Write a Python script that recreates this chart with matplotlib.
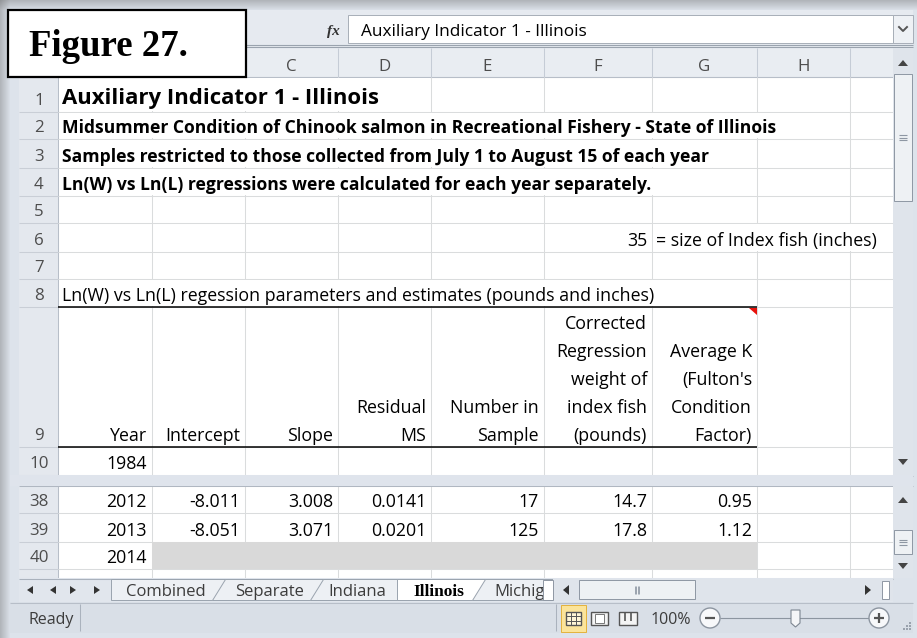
import matplotlib
matplotlib.use("Agg")
import matplotlib.pyplot as plt
from matplotlib.patches import Rectangle, Polygon, Circle

# ---- sheet content ----
title = "Auxiliary Indicator 1 - Illinois"
notes = ["Midsummer Condition of Chinook salmon in Recreational Fishery - State of Illinois",
         "Samples restricted to those collected from July 1 to August 15 of each year",
         "Ln(W) vs Ln(L) regressions were calculated for each year separately."]
index_size = 35
index_label = "= size of Index fish (inches)"
caption = "Ln(W) vs Ln(L) regession parameters and estimates (pounds and inches)"
headers = ["Year", "Intercept", "Slope", "Residual\nMS", "Number in\nSample",
           "Corrected\nRegression\nweight of\nindex fish\n(pounds)",
           "Average K\n(Fulton's\nCondition\nFactor)"]
years = [2012, 2013]
intercept = [-8.011, -8.051]
slope = [3.008, 3.071]
resid_ms = [0.0141, 0.0201]
n_sample = [17, 125]
index_weight = [14.7, 17.8]
avg_k = [0.95, 1.12]
first_year = 1984
empty_year = 2014
col_letters = ["C", "D", "E", "F", "G", "H"]   # A and B sit under the figure label
sheet_tabs = ["Combined", "Separate", "Indiana", "Illinois", "Michiga"]

# ---- layout (pixels) ----
W, H = 917, 638
FONT = "Open Sans"
FS = 12.8      # regular cell text
FSB = 12.6     # bold cell text
col_x = [58, 152, 245, 338, 431, 544, 652, 757, 850, 893]
top_edges = [77, 112, 139, 168, 196, 223, 252, 279, 307, 447, 475]   # rows 1..10
bot_edges = [486, 513, 542, 569, 578]                                 # rows 38..41
grid_c = "#dadcdd"
head_c = "#e4e8ee"
chrome = "#dde3eb"

fig = plt.figure(figsize=(W / 100, H / 100), dpi=100)
ax = fig.add_axes([0, 0, 1, 1])
ax.set_xlim(0, W)
ax.set_ylim(H, 0)
ax.axis("off")


def rect(x0, y0, x1, y1, fc, ec="none", lw=0.7, z=1):
    ax.add_patch(Rectangle((x0, y0), x1 - x0, y1 - y0, fc=fc, ec=ec, lw=lw, zorder=z))


def put(x, y, s, ha="right", size=FS, weight="normal", color="black", family=None, z=5, **kw):
    return ax.text(x, y, s, ha=ha, va="baseline", fontsize=size, fontweight=weight,
                   color=color, family=family or FONT, zorder=z, **kw)


def hline(y, x0, x1, c=grid_c, lw=0.75, z=2):
    ax.plot([x0, x1], [y, y], color=c, lw=lw, zorder=z, solid_capstyle="butt")


def vline(x, y0, y1, c=grid_c, lw=0.75, z=2):
    ax.plot([x, x], [y0, y1], color=c, lw=lw, zorder=z, solid_capstyle="butt")


# window chrome + shadow
rect(0, 0, W, H, chrome, z=0)
for i in range(10):
    a = 0.35 * (1 - i / 10)
    ax.add_patch(Rectangle((i, 0), 1, H, fc="#606060", alpha=a, lw=0, zorder=0.5))
    ax.add_patch(Rectangle((0, i), W, 1, fc="#606060", alpha=a, lw=0, zorder=0.5))

# formula bar
rect(10, 10, 913, 48, "#e6eaf0", z=0.6)
rect(348, 15, 893, 43, "white", ec="#a7aeb8", z=1)
rect(893, 15, 913, 43, "#eef1f5", ec="#a7aeb8", z=1)
ax.plot([899, 903, 907], [27, 31, 27], color="#555", lw=1.4, zorder=3)
hline(45, 19, 913, c="#9aa3ae", lw=0.8)
hline(47, 19, 913, c="#9aa3ae", lw=0.8)
put(333, 35, "fx", ha="center", size=11, family="Liberation Serif", style="italic", weight="bold", color="#333")
put(361, 36, title, ha="left", size=FS * 0.97)

# sheet panes
rect(58, 77, 893, 475, "white", z=0.8)
rect(58, 486, 893, 578, "white", z=0.8)

# column header
rect(19, 48, 893, 77, "#e9edf2", ec="none", z=1)
hline(77, 19, 893, c="#b7bec8", lw=0.8)
for i, letter in enumerate(col_letters):
    put((col_x[i + 2] + col_x[i + 3]) / 2, 71, letter, ha="center", color="#4d4d4d", size=12.2)
for x in col_x[:-1]:
    vline(x, 48, 77, c="#c5ccd6")

# row headers
for edges, first in ((top_edges, 1), (bot_edges, 38)):
    rect(19, edges[0], 58, edges[-1], head_c, z=1)
    vline(58, edges[0], edges[-1], c="#b7bec8")
    for k in range(len(edges) - 1):
        hline(edges[k + 1], 19, 58, c="#c9ced6")
        if edges[k + 1] - edges[k] > 15:
            put(39, edges[k + 1] - 7, str(first + k), ha="center", color="#4d4d4d", size=12.2)

# gridlines
for edges in (top_edges, bot_edges):
    for y in edges[1:]:
        hline(y, 58, 893)
    for x in col_x[1:-1]:
        vline(x, edges[0], edges[-1])

# split bar between panes
rect(10, 475, 913, 486, "#dfe4ec", z=3)
hline(475.5, 19, 913, c="#b0b7c1")
hline(485.5, 19, 913, c="#b0b7c1")

# cells overflowed by long text hide gridlines
for r, (c0, c1) in {1: (0, 4), 2: (0, 8), 3: (0, 7), 4: (0, 7), 6: (6, 9), 8: (0, 7)}.items():
    rect(col_x[c0] + 0.8, top_edges[r - 1] + 0.8, col_x[c1] - 0.8, top_edges[r] - 0.8, "white", z=2.5)

# text rows 1-8
put(62, top_edges[1] - 8, title, ha="left", size=15.9, weight="bold")
for k, s in enumerate(notes):
    put(62, top_edges[k + 2] - 6, s, ha="left", size=FSB, weight="bold")
put(col_x[6] - 5, top_edges[6] - 6, str(index_size))
put(col_x[6] + 4, top_edges[6] - 6, index_label, ha="left")
put(62, top_edges[8] - 6, caption, ha="left")

# table header row 9
for i, h in enumerate(headers):
    lines = h.split("\n")
    for j, ln in enumerate(reversed(lines)):
        put(col_x[i + 1] - 5, top_edges[9] - 6 - 28 * j, ln)
hline(top_edges[8], 58, col_x[7], c="black", lw=1.1, z=4)
hline(top_edges[9], 58, col_x[7], c="black", lw=1.1, z=4)
ax.add_patch(Polygon([(col_x[7] - 8, top_edges[8] + 0.5), (col_x[7], top_edges[8] + 0.5),
                      (col_x[7], top_edges[8] + 8)], fc="#e8120c", lw=0, zorder=5))
put(col_x[1] - 5, top_edges[10] - 6, str(first_year))

# rows 38-39
for k in range(len(years)):
    vals = [str(years[k]), f"{intercept[k]:.3f}", f"{slope[k]:.3f}", f"{resid_ms[k]:.4f}",
            str(n_sample[k]), f"{index_weight[k]:.1f}", f"{avg_k[k]:.2f}"]
    for i, v in enumerate(vals):
        put(col_x[i + 1] - 5, bot_edges[k + 1] - 6, v)
# row 40
rect(col_x[1], bot_edges[2], col_x[7], bot_edges[3], "#d9d9d9", z=2.6)
put(col_x[1] - 5, bot_edges[3] - 6, str(empty_year))

# vertical scrollbars
for y0, y1, up, dn, t0, t1 in ((48, 475, 63, 462, 74, 201), (486, 578, 500, 566, 530, 554)):
    rect(893, y0, 913, y1, "#dfe4eb", z=3)
    ax.add_patch(Polygon([(898, up + 3), (908, up + 3), (903, up - 3)], fc="#444", lw=0, zorder=4))
    ax.add_patch(Polygon([(898, dn - 3), (908, dn - 3), (903, dn + 3)], fc="#444", lw=0, zorder=4))
    rect(894, t0, 912, t1, "#eef1f4", ec="#8e97a3", z=4)
    mid = (t0 + t1) / 2
    for d in (-2.5, 0, 2.5):
        hline(mid + d, 899, 907, c="#8e97a3", lw=0.8, z=5)

# sheet tab bar
rect(19, 578, 893, 602, "#e1e6ed", z=3)
hline(578.5, 19, 893, c="#a9b1bc", z=4)
for x, d in ((30, -1), (53, -1), (73, 1), (97, 1)):
    ax.add_patch(Polygon([(x - 3 * d, 586), (x - 3 * d, 594), (x + 3 * d, 590)], fc="#333", lw=0, zorder=4))
vline(27, 586, 594, c="#333", lw=1)
vline(100, 586, 594, c="#333", lw=1)
tab_x = [111, 222, 320, 397, 482, 543]
for i, name in enumerate(sheet_tabs):
    x0, x1 = tab_x[i], tab_x[i + 1]
    active = name == "Illinois"
    slant = i in (1, 2, 4)
    pts = [(x0 + (3 if slant else 0), 579), (x1 + 12, 579), (x1 + 12, 600),
           (x0 - (10 if slant else 0), 600)]
    ax.add_patch(Polygon(pts, fc="white" if active else "#edf0f4", ec="#9aa3ae", lw=0.7,
                         zorder=4 + 0.1 * i))
    if active:
        put((x0 + x1) / 2 - 1, 596, name, ha="center", size=12.5, weight="bold", family="Liberation Serif", z=7)
    else:
        t = put((x0 + x1) / 2 - 1, 596, name, ha="center", color="#3c3c3c", z=7, size=12.0)
        if i == len(sheet_tabs) - 1:
            t.set_ha("left")
            t.set_x(x0 + 12)
            t.set_clip_path(Rectangle((x0, 579), 543 - x0, 22, transform=ax.transData))
rect(543, 580, 553, 600, "white", ec="#8e97a3", z=8)
# horizontal scrollbar
rect(553, 579, 893, 601, "#dfe4eb", z=5)
ax.add_patch(Polygon([(569, 585), (569, 595), (563, 590)], fc="#333", lw=0, zorder=6))
ax.add_patch(Polygon([(865, 585), (865, 595), (871, 590)], fc="#333", lw=0, zorder=6))
rect(579, 580, 695, 599, "#eef1f4", ec="#8e97a3", z=6)
for d in (-2.4, -0.8, 0.8, 2.4):
    vline(637 + d, 586, 594, c="#8e97a3", lw=0.6, z=7)
rect(882, 581, 889, 599, "white", ec="#8e97a3", z=6)

# status bar
rect(10, 602, 913, 633, "#d9dfe7", z=3)
hline(602.5, 10, 913, c="#b7bec8", z=4)
put(28, 624, "Ready", ha="left", color="#3c3c3c", size=11.5)
vline(80, 604, 631, c="#aab2bd", z=4)
vline(556, 604, 631, c="#aab2bd", z=4)
rect(561, 605, 586, 632, "#fbe49a", ec="#e3b23c", z=4)
rect(566, 612, 581, 625, "#fff6d6", ec="#555", lw=1, z=5)
for d in (4.3, 8.6):
    hline(612 + d, 566, 581, c="#555", lw=0.7, z=6)
    vline(566 + d * 15 / 13, 612, 625, c="#555", lw=0.7, z=6)
rect(591, 612, 608, 625, "#f4f4f4", ec="#555", lw=1, z=5)
rect(595, 614, 604, 623, "white", ec="#777", lw=0.7, z=6)
rect(619, 612, 637, 625, "#f4f4f4", ec="#555", lw=1, z=5)
vline(625, 612, 621, c="#555", lw=1.2, z=6)
vline(631, 612, 621, c="#555", lw=1.2, z=6)
put(671, 624, "100%", ha="center", color="#3c3c3c", size=11.5)
hline(618, 720, 870, c="#8c95a0", lw=0.8, z=4)
for cx, sym in ((710, "minus"), (879, "plus")):
    ax.add_patch(Circle((cx, 618), 10, fc="#f7f8fa", ec="#8c95a0", lw=1, zorder=5))
    hline(618, cx - 5, cx + 5, c="#555", lw=1.6, z=6)
    if sym == "plus":
        vline(cx, 613, 623, c="#555", lw=1.6, z=6)
ax.add_patch(Polygon([(791, 610), (800, 610), (800, 623), (795.5, 627), (791, 623)],
                     fc="#f4f5f7", ec="#7d8691", lw=0.8, zorder=6))
for dx, dy in ((906, 628), (909, 628), (909, 625), (903, 628), (906, 625), (909, 622)):
    rect(dx, dy, dx + 1.5, dy + 1.5, "#9aa2ad", z=6)

# figure label box
rect(8, 10, 246, 77, "white", ec="black", lw=1.6, z=10)
put(29, 56, "Figure 27.", ha="left", size=26.5, weight="bold", family="Liberation Serif", z=11)

fig.savefig("out.png", dpi=100)
